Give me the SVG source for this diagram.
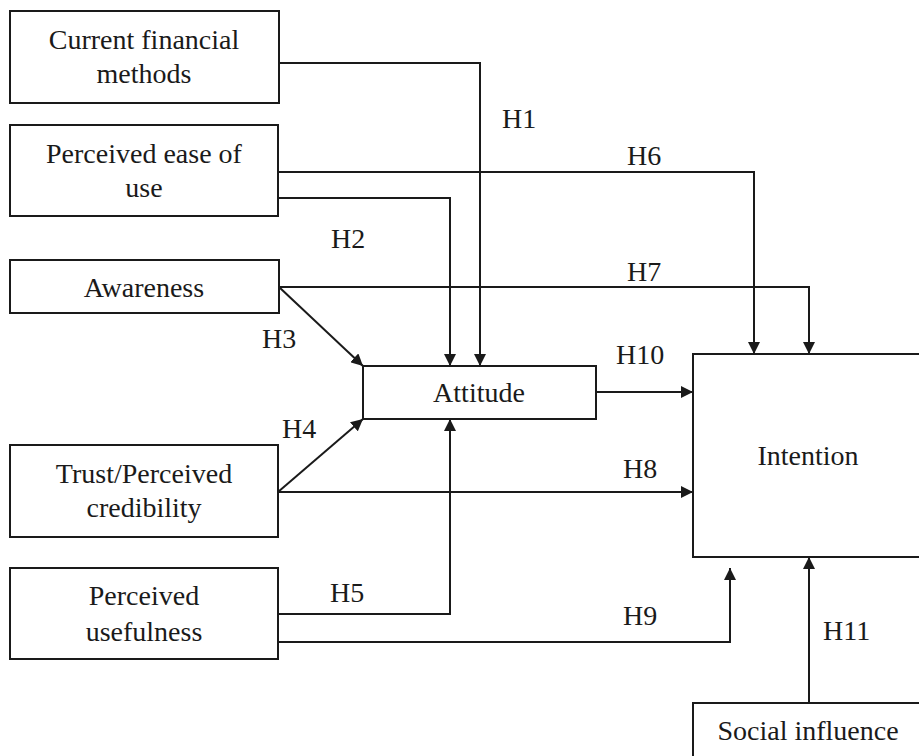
<svg xmlns="http://www.w3.org/2000/svg" width="919" height="756" viewBox="0 0 919 756">
<style>
.box{fill:#fff;stroke:#1a1a1a;stroke-width:2}
text{font-family:'Liberation Serif','Times New Roman','DejaVu Serif',serif;font-size:28px;fill:#1a1a1a}
.t{text-anchor:middle}
.c{fill:none;stroke:#1a1a1a;stroke-width:2;marker-end:url(#ah)}
</style>
<defs>
<marker id="ah" markerWidth="12" markerHeight="12" viewBox="0 0 12 12" refX="12" refY="6" orient="auto" markerUnits="userSpaceOnUse">
<path d="M0,0 L12,6 L0,12 Z" fill="#1a1a1a"/>
</marker>
</defs>
<rect width="919" height="756" fill="#fff"/>
<g id="connectors">
<path class="c" d="M279,63 H480 V366"/>
<path class="c" d="M278,172 H754 V354"/>
<path class="c" d="M278,198 H450 V366"/>
<path class="c" d="M279,287 H809 V354"/>
<path class="c" d="M279,287 L363,366"/>
<path class="c" d="M278,492 L363,419"/>
<path class="c" d="M278,492 H693"/>
<path class="c" d="M596,392 H693"/>
<path class="c" d="M278,614 H450 V419"/>
<path class="c" d="M278,642 H730 V568"/>
<path class="c" d="M809,703 V557"/>
</g>
<g id="labels">
<text x="502" y="128">H1</text>
<text x="627" y="165">H6</text>
<text x="331" y="248">H2</text>
<text x="627" y="281">H7</text>
<text x="262" y="348">H3</text>
<text x="616" y="364">H10</text>
<text x="282" y="438">H4</text>
<text x="623" y="478">H8</text>
<text x="330" y="602">H5</text>
<text x="623" y="625">H9</text>
<text x="823" y="640">H11</text>
</g>
<g id="node-current">
<rect class="box" x="10" y="11" width="269" height="92"/>
<text class="t" x="144" y="49">Current financial</text>
<text class="t" x="144" y="83">methods</text>
</g>
<g id="node-ease">
<rect class="box" x="10" y="125" width="268" height="91"/>
<text class="t" x="144" y="163">Perceived ease of</text>
<text class="t" x="144" y="197">use</text>
</g>
<g id="node-awareness">
<rect class="box" x="10" y="260" width="269" height="53"/>
<text class="t" x="144" y="297">Awareness</text>
</g>
<g id="node-attitude">
<rect class="box" x="363" y="366" width="233" height="53"/>
<text class="t" x="479" y="402">Attitude</text>
</g>
<g id="node-trust">
<rect class="box" x="10" y="445" width="268" height="92"/>
<text class="t" x="144" y="483">Trust/Perceived</text>
<text class="t" x="144" y="517">credibility</text>
</g>
<g id="node-usefulness">
<rect class="box" x="10" y="568" width="268" height="91"/>
<text class="t" x="144" y="605">Perceived</text>
<text class="t" x="144" y="641">usefulness</text>
</g>
<g id="node-intention">
<rect class="box" x="693" y="354" width="236" height="203"/>
<text class="t" x="808" y="465">Intention</text>
</g>
<g id="node-social">
<rect class="box" x="693" y="703" width="236" height="70"/>
<text class="t" x="808" y="740">Social influence</text>
</g>
</svg>
